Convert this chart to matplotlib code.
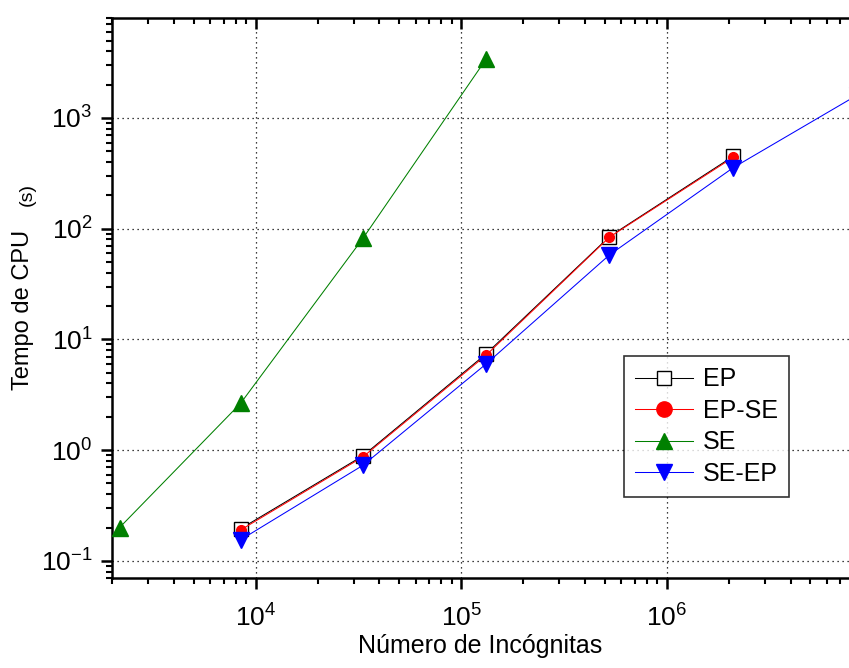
import matplotlib
matplotlib.use("Agg")
import matplotlib.pyplot as plt
import numpy as np

plt.rcParams['font.family'] = ['Liberation Sans', 'DejaVu Sans']
plt.rcParams['mathtext.fontset'] = 'custom'
plt.rcParams['mathtext.rm'] = 'Liberation Sans'
plt.rcParams['mathtext.it'] = 'Liberation Sans:italic'
plt.rcParams['mathtext.bf'] = 'Liberation Sans:bold'
plt.rcParams['axes.unicode_minus'] = False

# number of unknowns
n_ep = [8450, 33282, 132098, 526338, 2101250]
n_se = [2178, 8450, 33282, 132098]
n_seep = [8450, 33282, 132098, 526338, 2101250, 8396802]

# CPU time (s)
t_ep = [0.195, 0.89, 7.4, 85, 450]
t_epse = [0.19, 0.87, 7.2, 84, 440]
t_se = [0.2, 2.65, 82, 3400]
t_seep = [0.155, 0.73, 6.0, 58, 355, 1600]

fig = plt.figure(figsize=(8.49, 6.68), dpi=100)
ax = fig.add_axes([112/849, 90/668, 737/849, 560/668])

lw = 0.75
ax.plot(n_ep, t_ep, '-', color='black', lw=lw, marker='s', ms=10,
        mfc='white', mec='black', mew=1.0, label='EP', zorder=3)
ax.plot(n_ep, t_epse, '-', color='red', lw=lw, marker='o', ms=7,
        mfc='red', mec='red', label='EP-SE', zorder=4)
ax.plot(n_se, t_se, '-', color='#008000', lw=lw, marker='^', ms=11,
        mfc='#008000', mec='#008000', label='SE', zorder=4)
ax.plot(n_seep, t_seep, '-', color='blue', lw=lw, marker='v', ms=11,
        mfc='blue', mec='blue', label='SE-EP', zorder=5)

ax.set_xscale('log')
ax.set_yscale('log')
ax.set_xlim(2000, 7.7e6)
ax.set_ylim(0.07, 8000)

ax.grid(True, which='major', color='black', linestyle=(0, (1, 3)), lw=0.9)

for s in ['left', 'bottom', 'top']:
    ax.spines[s].set_linewidth(1.8)
ax.spines['right'].set_visible(False)

ax.tick_params(axis='both', which='major', labelsize=19, width=1.8, length=8,
               direction='out')
ax.tick_params(axis='both', which='minor', width=1.5, length=4,
               direction='out')
ax.tick_params(axis='x', which='major', pad=11)
ax.tick_params(axis='y', which='major', pad=6)
ax.tick_params(axis='x', which='both', top=True, labeltop=False)
ax.tick_params(axis='y', which='both', right=False)
for t in ax.xaxis.get_major_ticks() + ax.xaxis.get_minor_ticks():
    t.tick2line.set_marker(3)  # top ticks pointing down into the plot

ax.set_xlabel('Número de Incógnitas', fontsize=18, labelpad=2)

fig.text(23/849, 1 - 390/668, 'Tempo de CPU', rotation=90, fontsize=17,
         ha='center', va='bottom')
fig.text(27/849, 1 - 183/668, '(s)', rotation=90, fontsize=14,
         ha='center', va='top')

leg = ax.legend(loc='upper left', fontsize=18, frameon=True,
                fancybox=False, edgecolor='black', handlelength=2.3,
                labelspacing=0.3, borderpad=0.45, handletextpad=0.4,
                borderaxespad=0)
leg.set_bbox_to_anchor((624/849, 1 - 356/668), transform=fig.transFigure)
leg.get_frame().set_linewidth(1.2)
for h, m in zip(leg.legend_handles, [10, 11, 12, 12]):
    h.set_markersize(m)

fig.savefig('out.png', dpi=100)
